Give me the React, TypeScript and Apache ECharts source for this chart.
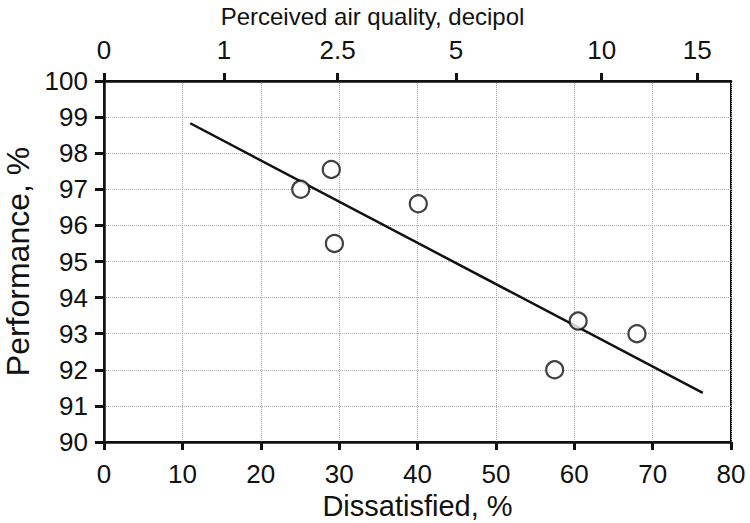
import React, { useEffect, useRef } from "react";
import * as echarts from "echarts";

// Observed data (dissatisfied %, performance %)
const dissatisfied = [25.1, 29.0, 29.4, 40.1, 57.5, 60.5, 68.0];
const performance = [97.0, 97.55, 95.5, 96.6, 92.0, 93.35, 93.0];

// Regression line end points
const fitX = [11.0, 76.4];
const fitY = [98.83, 91.36];

// Top axis: decipol labels and their positions on the dissatisfied scale
const decipolLabels = ["0", "1", "2.5", "5", "10", "15"];
const decipolPositions = [0, 15.3, 29.8, 44.9, 63.5, 75.7];

const FONT = "'Liberation Sans', Arial, Helvetica, sans-serif";
const INK = "#111111";

export default function App() {
  const ref = useRef<HTMLDivElement>(null);

  useEffect(() => {
    if (!ref.current) return;
    const chart = echarts.init(ref.current, undefined, { renderer: "svg" });

    const points = dissatisfied.map((x, i) => [x, performance[i]]);
    const fit = fitX.map((x, i) => [x, fitY[i]]);

    const labelFor = (v: number) => {
      let best = 0;
      for (let i = 0; i < decipolPositions.length; i++) {
        if (Math.abs(decipolPositions[i] - v) < Math.abs(decipolPositions[best] - v)) best = i;
      }
      return decipolLabels[best];
    };

    chart.setOption({
      animation: false,
      backgroundColor: "#ffffff",
      textStyle: { fontFamily: FONT, color: INK },
      grid: {
        left: 104,
        right: 19,
        top: 81,
        bottom: 81,
        outerBoundsMode: "none",
        containLabel: false,
        show: true,
        borderColor: INK,
        borderWidth: 2,
        backgroundColor: "transparent",
      },
      xAxis: [
        {
          type: "value",
          position: "bottom",
          min: 0,
          max: 80,
          interval: 10,
          name: "Dissatisfied, %",
          nameLocation: "middle",
          nameGap: 49,
          nameTextStyle: { fontSize: 29, color: INK, fontFamily: FONT },
          axisLine: { show: true, onZero: false, lineStyle: { color: INK, width: 2.5 } },
          axisTick: { show: true, inside: false, length: 8, lineStyle: { color: INK, width: 3 } },
          axisLabel: { fontSize: 26, color: INK, margin: 19, fontFamily: FONT },
          splitLine: { show: true, lineStyle: { color: "#aaaaaa", width: 1, type: "dotted" } },
        },
        {
          type: "value",
          position: "top",
          min: 0,
          max: 80,
          name: "Perceived air quality, decipol",
          nameLocation: "middle",
          nameGap: 53,
          nameTextStyle: { fontSize: 24, color: INK, fontFamily: FONT, padding: [0, 90, 0, 0] },
          axisLine: { show: true, onZero: false, lineStyle: { color: INK, width: 2.5 } },
          axisTick: {
            show: true,
            inside: false,
            length: 8,
            customValues: decipolPositions,
            lineStyle: { color: INK, width: 3 },
          },
          axisLabel: {
            fontSize: 26,
            color: INK,
            margin: 18,
            fontFamily: FONT,
            customValues: decipolPositions,
            formatter: (v: number) => labelFor(v),
          },
          splitLine: { show: false },
        },
      ],
      yAxis: {
        type: "value",
        min: 90,
        max: 100,
        interval: 1,
        name: "Performance, %",
        nameLocation: "middle",
        nameGap: 64,
        nameRotate: 90,
        nameTextStyle: { fontSize: 32, color: INK, fontFamily: FONT },
        axisLine: { show: true, onZero: false, lineStyle: { color: INK, width: 2.5 } },
        axisTick: { show: true, inside: false, length: 9, lineStyle: { color: INK, width: 3 } },
        axisLabel: { fontSize: 26, color: INK, margin: 16, fontFamily: FONT },
        splitLine: { show: true, lineStyle: { color: "#aaaaaa", width: 1, type: "dotted" } },
      },
      series: [
        {
          type: "line",
          data: fit,
          xAxisIndex: 0,
          showSymbol: false,
          symbol: "none",
          lineStyle: { color: INK, width: 2.5 },
          silent: true,
          z: 2,
        },
        {
          type: "scatter",
          data: points,
          xAxisIndex: 0,
          symbol: "circle",
          symbolSize: 17,
          itemStyle: { color: "#ffffff", borderColor: INK, borderWidth: 2.2 },
          z: 3,
        },
      ],
    });

    return () => chart.dispose();
  }, []);

  return (
    <div
      ref={ref}
      style={{ position: "fixed", left: 0, top: 0, width: 750, height: 523, background: "#fff" }}
    />
  );
}
